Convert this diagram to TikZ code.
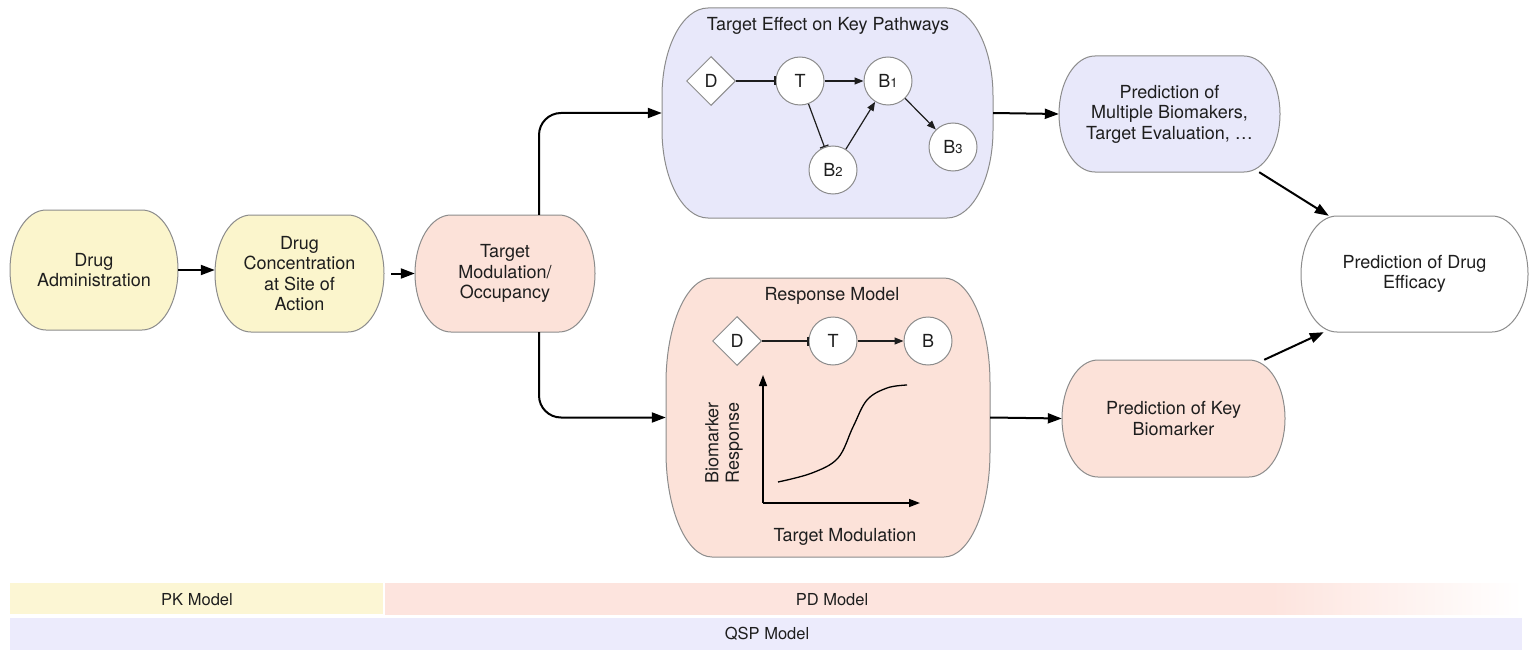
\documentclass[tikz,border=0pt]{standalone}
\usepackage{fontspec}
\setmainfont{TeX Gyre Heros}
\usetikzlibrary{arrows.meta,shapes.geometric}
\definecolor{ycol}{RGB}{251,245,204}
\definecolor{pcol}{RGB}{252,226,217}
\definecolor{lcol}{RGB}{232,232,250}
\definecolor{pkcol}{RGB}{252,246,212}
\definecolor{pdcol}{RGB}{253,228,222}
\definecolor{qspcol}{RGB}{236,235,252}
\definecolor{bordcol}{RGB}{140,140,140}
\definecolor{txtcol}{RGB}{30,30,30}
\pgfdeclarehorizontalshading{pdshade}{100bp}{color(0bp)=(pdcol); color(64bp)=(pdcol); color(75bp)=(white); color(100bp)=(white)}
\newcommand\fs{\fontsize{18}{20.5}\selectfont}
\newcommand\bsub[1]{\raisebox{-0.5pt}{\fontsize{13}{13}\selectfont #1}}
% name, x, y, w, h, rx, ry, fill, text
\newcommand\pbox[9]{%
\draw[boxline,fill=#8] ({#2+#6},#3) -- ({#2+#4-#6},#3)
 .. controls ({#2+#4-#6+0.5523*#6},#3) and ({#2+#4},{#3+#7-0.5523*#7}) .. ({#2+#4},{#3+#7})
 -- ({#2+#4},{#3+#5-#7})
 .. controls ({#2+#4},{#3+#5-#7+0.5523*#7}) and ({#2+#4-#6+0.5523*#6},{#3+#5}) .. ({#2+#4-#6},{#3+#5})
 -- ({#2+#6},{#3+#5})
 .. controls ({#2+#6-0.5523*#6},{#3+#5}) and (#2,{#3+#5-#7+0.5523*#7}) .. (#2,{#3+#5-#7})
 -- (#2,{#3+#7})
 .. controls (#2,{#3+#7-0.5523*#7}) and ({#2+#6-0.5523*#6},#3) .. ({#2+#6},#3) -- cycle;
\node[boxtext, minimum width=#4pt, minimum height=#5pt] (#1) at ({#2+#4/2},{#3+#5/2}) {#9};}
\begin{document}
\begin{tikzpicture}[x=1pt,y=-1pt,
  boxline/.style={draw=bordcol, line width=1pt},
  boxtext/.style={align=center, font=\fs, text=txtcol, inner sep=0pt},
  arr/.style={line width=2pt, draw=black, -{Triangle[length=14pt,width=10pt]}},
  iarr/.style={line width=1.2pt, draw=txtcol, -{Triangle[length=9pt,width=7pt]}},
  ibar/.style={line width=1.2pt, draw=txtcol, -{Bar[width=9pt,line width=1.2pt]}},
  axarr/.style={line width=1.5pt, draw=black, -{Triangle[length=11pt,width=8pt]}},
  dia/.style={diamond, aspect=1, draw=bordcol, line width=1pt, fill=white, minimum width=49pt, minimum height=49pt, inner sep=0pt, font=\fs, text=txtcol},
  circ/.style={circle, draw=bordcol, line width=1pt, fill=white, minimum size=48pt, inner sep=0pt, font=\fs, text=txtcol},
  bartext/.style={font=\fontsize{16.5}{18}\selectfont, text=txtcol, inner sep=0pt}
]
\useasboundingbox (0,0) rectangle (1539,666);
\fill[white] (0,0) rectangle (1539,666);

% main boxes
\pbox{adm}{10}{210}{168}{120}{36}{60}{ycol}{Drug\\Administration}
\pbox{conc}{215}{215}{169}{117}{36}{58.5}{ycol}{Drug\\Concentration\\at Site of\\Action}
\pbox{tm}{415}{215}{180}{117}{36}{58.5}{pcol}{Target\\Modulation/\\Occupancy}
\pbox{eff}{662}{8}{331}{210}{46}{88}{lcol}{}
\pbox{resp}{666}{278}{324}{279}{46}{105}{pcol}{}
\pbox{mult}{1059}{56}{221}{116}{36}{58}{lcol}{Prediction of\\Multiple Biomakers,\\Target Evaluation, …}
\pbox{key}{1062}{360}{223}{117}{36}{58.5}{pcol}{Prediction of Key\\Biomarker}
\pbox{effi}{1301}{216}{227}{116}{36}{58}{white}{Prediction of Drug\\Efficacy}

% main connectors
\draw[arr] (adm.east) -- (adm.east -| conc.west);
\draw[arr] ([xshift=7pt]conc.east) -- (tm.west);
\draw[arr, rounded corners=22pt] ([xshift=34pt]tm.north) |- (eff.west);
\draw[arr, rounded corners=22pt] ([xshift=34pt]tm.south) |- (resp.west);
\draw[arr] (eff.east) -- (mult.west);
\draw[arr] (resp.east) -- (key.west);
\draw[arr] ([xshift=-21pt]mult.south east) -- ([xshift=28pt]effi.north west);
\draw[arr] ([xshift=-21pt]key.north east) -- ([xshift=23pt]effi.south west);

% pathway network
\node[boxtext] (efftitle) at (828,26) {Target Effect on Key Pathways};
\node[dia] (d1) at (711,81) {D};
\node[circ] (t1) at (800,81) {T};
\node[circ] (b1) at (888,81) {B\bsub{1}};
\node[circ] (b2) at (833,170) {B\bsub{2}};
\node[circ] (b3) at (953,147) {B\bsub{3}};
\draw[ibar] (d1) -- (t1);
\draw[iarr] (t1) -- (b1);
\draw[ibar] (t1) -- (b2);
\draw[iarr] (b2) -- (b1);
\draw[iarr] (b1) -- (b3);

% response model
\node[boxtext] (resptitle) at (832,296) {Response Model};
\node[dia] (d2) at (737,341) {D};
\node[circ] (t2) at (833,341) {T};
\node[circ] (b4) at (928,341) {B};
\draw[ibar] (d2) -- (t2);
\draw[iarr] (t2) -- (b4);
\coordinate (orig) at (763,503);
\coordinate (ytop) at (763,375);
\coordinate (xend) at (920,503);
\draw[axarr] (orig) -- (ytop);
\draw[axarr] (orig) -- (xend);
\draw[line width=1.3pt, black] plot[smooth, tension=0.6] coordinates {(778,482) (812,473) (838,458) (853,427) (867,400) (887,388) (907,385)};
\node[boxtext, rotate=90] (ylab) at (724,443) {Biomarker\\Response};
\node[boxtext] (xlab) at (845,537) {Target Modulation};

% bottom bars
\fill[pkcol] (10,583) rectangle (383,614);
\shade[shading=pdshade] (385,583) rectangle (1522,614);
\fill[qspcol] (10,618) rectangle (1522,650);
\node[bartext] (pk) at (197,600) {PK Model};
\node[bartext] (pd) at (832,600) {PD Model};
\node[bartext] (qsp) at (767,634) {QSP Model};
\end{tikzpicture}
\end{document}
